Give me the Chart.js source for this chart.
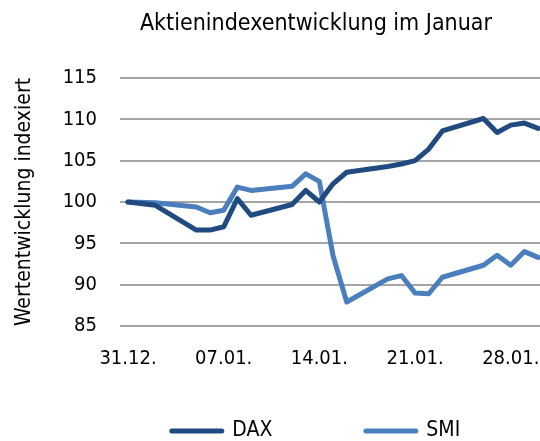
<!DOCTYPE html>
<html>
<head>
<meta charset="utf-8">
<script src="https://cdn.jsdelivr.net/npm/chart.js@4"></script>
<style>
  html, body { margin: 0; padding: 0; background: #fff; overflow: hidden; }
  #wrap { width: 632px; height: 441px; position: relative; }
</style>
</head>
<body>
<div id="wrap"><canvas id="chart"></canvas></div>
<script>
// -------------------------------
// DATA (index, 31.12. = 100)
// -------------------------------
const dates = ["31.12.", "02.01.", "05.01.", "06.01.", "07.01.", "08.01.", "09.01.",
  "12.01.", "13.01.", "14.01.", "15.01.", "16.01.", "19.01.", "20.01.", "21.01.",
  "22.01.", "23.01.", "26.01.", "27.01.", "28.01.", "29.01.", "30.01."];

const dax = [100, 99.6, 96.6, 96.6, 97.0, 100.4, 98.4, 99.7, 101.4, 100.0, 102.2,
  103.6, 104.3, 104.6, 105.0, 106.4, 108.6, 110.1, 108.4, 109.3, 109.55, 108.9];

const smi = [100, 99.9, 99.4, 98.7, 99.0, 101.8, 101.4, 101.9, 103.4, 102.5, 93.5,
  87.9, 90.7, 91.1, 89.0, 88.9, 90.9, 92.35, 93.55, 92.35, 94.0, 93.3];

const tickLabels = ["31.12.", "07.01.", "14.01.", "21.01.", "28.01."];

// day offset from 31.12.
function dayOf(s) {
  const p = s.split(".");
  return p[1] === "12" ? +p[0] - 31 : +p[0];
}

const FONT = "'DejaVu Sans Condensed', 'DejaVu Sans', sans-serif";
const DAX_COLOR = "#1f4b80";
const SMI_COLOR = "#4a7ebd";

const tickDays = tickLabels.map(dayOf);

// legend: thick line samples + empty spacer item between DAX and SMI
function legendLabels(chart) {
  const items = Chart.defaults.plugins.legend.labels.generateLabels(chart);
  items.forEach(it => {
    const ds = chart.data.datasets[it.datasetIndex];
    it.strokeStyle = ds.borderColor;
    it.lineWidth = 5;
    it.lineCap = "round";
  });
  items.splice(1, 0, {
    text: "",
    fillStyle: "rgba(0,0,0,0)",
    strokeStyle: "rgba(0,0,0,0)",
    lineWidth: 0,
    hidden: false,
    pointStyle: "line",
    datasetIndex: -1
  });
  return items;
}

new Chart(document.getElementById("chart").getContext("2d"), {
  type: "line",
  data: {
    datasets: [
      {
        label: "DAX",
        data: dates.map((d, i) => ({ x: dayOf(d), y: dax[i] })),
        borderColor: DAX_COLOR,
        backgroundColor: DAX_COLOR
      },
      {
        label: "SMI",
        data: dates.map((d, i) => ({ x: dayOf(d), y: smi[i] })),
        borderColor: SMI_COLOR,
        backgroundColor: SMI_COLOR
      }
    ]
  },
  options: {
    responsive: true,
    maintainAspectRatio: false,
    animation: false,
    layout: { padding: { left: 0, right: 0, top: 0, bottom: -10.5 } },
    elements: {
      point: { radius: 0 },
      line: { borderWidth: 5, tension: 0, borderJoinStyle: "round", borderCapStyle: "round" }
    },
    plugins: {
      title: {
        display: true,
        text: "Aktienindexentwicklung im Januar",
        color: "#000",
        font: { family: FONT, size: 23, weight: "normal" },
        padding: { top: 10, bottom: 40.4 }
      },
      legend: {
        position: "bottom",
        onClick: null,
        labels: {
          color: "#000",
          font: { family: FONT, size: 21 },
          usePointStyle: true,
          pointStyle: "line",
          pointStyleWidth: 50,
          padding: 16.5,
          generateLabels: legendLabels
        }
      },
      tooltip: { enabled: false }
    },
    scales: {
      x: {
        type: "linear",
        min: -0.585,
        max: 36.87,
        afterFit: s => { s.height = 78; },
        afterBuildTicks: s => { s.ticks = tickDays.map(v => ({ value: v })); },
        grid: { display: false },
        border: { display: false },
        ticks: {
          color: "#000",
          padding: 13,
          maxRotation: 0,
          autoSkip: false,
          font: { family: FONT, size: 20 },
          callback: v => tickLabels[tickDays.indexOf(v)]
        }
      },
      y: {
        min: 85,
        max: 115,
        afterFit: s => { s.width = 120; },
        border: { display: false },
        grid: { color: "#a5a5a5", lineWidth: 2, drawTicks: false },
        title: {
          display: true,
          text: "Wertentwicklung indexiert",
          color: "#000",
          font: { family: FONT, size: 21 },
          padding: { top: 12, bottom: 0 }
        },
        ticks: {
          stepSize: 5,
          padding: 23,
          color: "#000",
          font: { family: FONT, size: 20 }
        }
      }
    }
  }
});
</script>
</body>
</html>
